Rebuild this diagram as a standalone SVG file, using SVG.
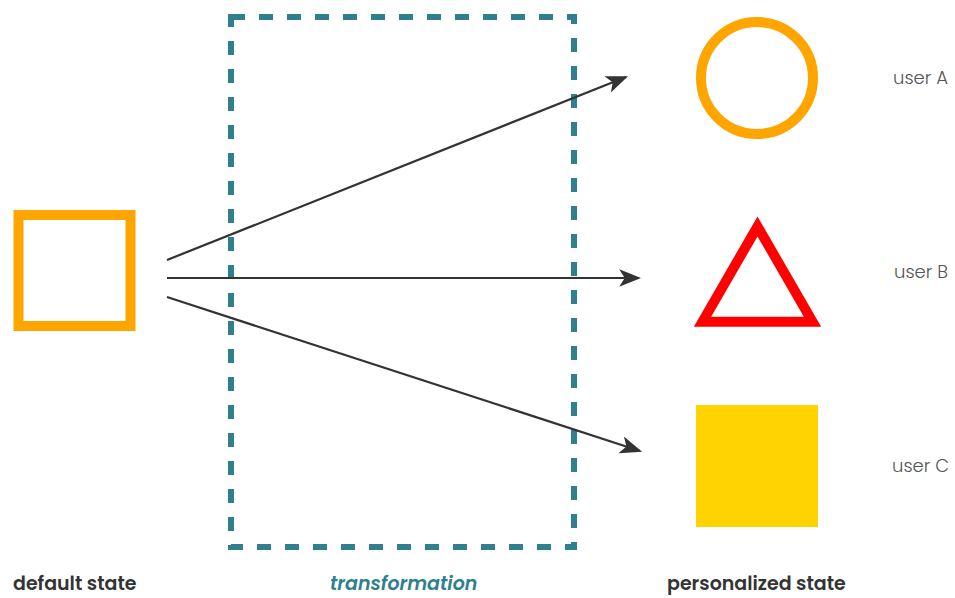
<svg xmlns="http://www.w3.org/2000/svg" width="955" height="598" viewBox="0 0 955 598">
<style>
.lbl{font-family:"Poppins","Inter","Liberation Sans",sans-serif;font-size:18px;font-weight:300;fill:#555}
.cap{font-family:"Poppins","Inter","Liberation Sans",sans-serif;font-size:19px;font-weight:600;fill:#333}
.conn{stroke:#333;stroke-width:2.2;fill:none;marker-end:url(#ah)}
</style>
<defs>
<marker id="ah" markerWidth="10" markerHeight="8" refX="9" refY="4" orient="auto" markerUnits="strokeWidth">
<path d="M0,0 L10,4 L0,8 L2.5,4 Z" fill="#333"/>
</marker>
</defs>
<rect width="955" height="598" fill="#fff"/>
<g id="transformation-box">
<rect x="231" y="17" width="343" height="530" fill="none" stroke="#2f7f8e" stroke-width="6" stroke-dasharray="14 14"/>
</g>
<g id="default-node">
<rect x="18.5" y="215" width="112" height="111" fill="none" stroke="#FFA500" stroke-width="10"/>
</g>
<g id="connectors">
<line class="conn" x1="167" y1="260" x2="626" y2="77"/>
<line class="conn" x1="167" y1="278" x2="639" y2="278"/>
<line class="conn" x1="167" y1="297" x2="640" y2="451"/>
</g>
<g id="userA">
<circle cx="757" cy="78" r="56" fill="none" stroke="#FFA500" stroke-width="10"/>
<text class="lbl" x="893" y="84">user A</text>
</g>
<g id="userB">
<polygon points="757.5,226.4 702.5,321.8 812.5,321.8" fill="none" stroke="#FF0000" stroke-width="10"/>
<text class="lbl" x="894" y="278">user B</text>
</g>
<g id="userC">
<rect x="696" y="405" width="122" height="122" fill="#FFD300"/>
<text class="lbl" x="892" y="472">user C</text>
</g>
<g id="captions">
<text class="cap" x="13" y="590">default state</text>
<text class="cap" x="330" y="590" style="fill:#2f7f8e;font-style:italic">transformation</text>
<text class="cap" x="667" y="590">personalized state</text>
</g>
</svg>
